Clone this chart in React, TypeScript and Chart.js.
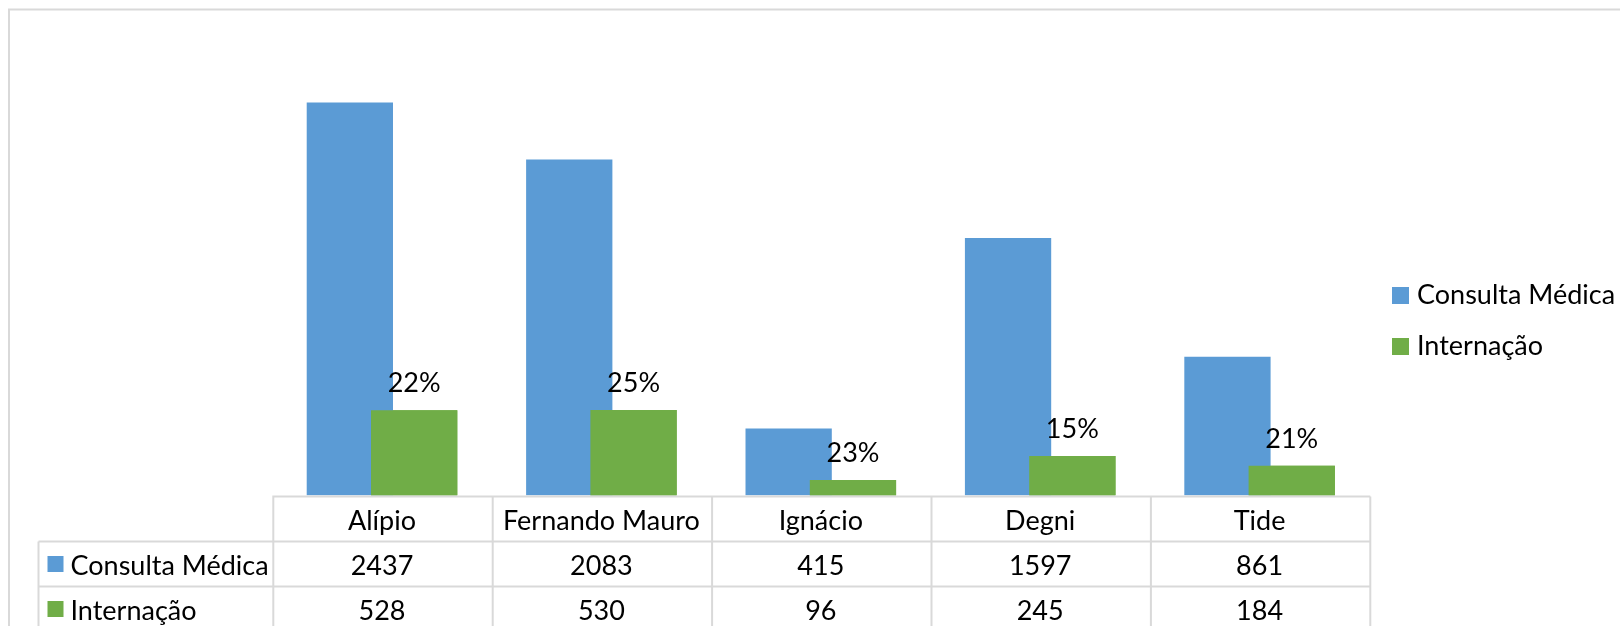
import React, { useEffect, useRef } from "react";
import { Chart, registerables } from "chart.js";

Chart.register(...registerables);

const categories = ["Alípio", "Fernando Mauro", "Ignácio", "Degni", "Tide"];
const consultaValues = [2437, 2083, 415, 1597, 861];
const internacaoValues = [528, 530, 96, 245, 184];
const percentLabels = ["22%", "25%", "23%", "15%", "21%"];
const seriesNames = ["Consulta Médica", "Internação"];
const seriesColors = ["#5B9BD5", "#70AD47"];

const FONT_FAMILY = "Lato, 'Open Sans', sans-serif";
const FONT_SIZE = 27;
const LINE = "#d9d9d9";
const TEXT = "#000000";

const excelPlugin = {
  id: "excelTable",
  beforeDraw(chart: any) {
    const ctx = chart.ctx;
    ctx.save();
    ctx.fillStyle = "#ffffff";
    ctx.fillRect(0, 0, chart.width, chart.height);
    ctx.strokeStyle = LINE;
    ctx.lineWidth = 2;
    ctx.strokeRect(9, 9.5, chart.width + 50, chart.height + 50);
    ctx.restore();
  },
  afterDatasetsDraw(chart: any) {
    const ctx = chart.ctx;
    const area = chart.chartArea;
    const xs = chart.scales.x;
    const n = categories.length;
    const cw = (area.right - area.left) / n;

    // green bars drawn over the blue ones (Excel overlap)
    const gMeta = chart.getDatasetMeta(1);
    ctx.save();
    gMeta.data.forEach((el: any) => el.draw(ctx));
    ctx.restore();

    const font = `${FONT_SIZE}px ${FONT_FAMILY}`;
    ctx.save();
    ctx.font = font;
    ctx.fillStyle = TEXT;
    ctx.textAlign = "center";
    ctx.textBaseline = "alphabetic";
    gMeta.data.forEach((el: any, i: number) => {
      ctx.fillText(percentLabels[i], el.x, el.y - 18);
    });
    ctx.restore();

    // data table
    const top = area.bottom + 1;
    const rowH = 45;
    const legendLeft = 38.5;
    const bottom = chart.height + 10;
    ctx.save();
    ctx.strokeStyle = LINE;
    ctx.lineWidth = 2;
    ctx.beginPath();
    // header top line
    ctx.moveTo(area.left, top);
    ctx.lineTo(area.right + 1, top);
    // row lines
    for (let r = 1; r <= 2; r++) {
      const y = top + rowH * r;
      ctx.moveTo(legendLeft, y);
      ctx.lineTo(area.right + 1, y);
    }
    // vertical lines
    for (let i = 0; i <= n; i++) {
      const x = area.left + cw * i + 1;
      ctx.moveTo(x, top);
      ctx.lineTo(x, bottom);
    }
    ctx.moveTo(legendLeft, top + rowH);
    ctx.lineTo(legendLeft, bottom);
    ctx.stroke();
    ctx.restore();

    ctx.save();
    ctx.font = font;
    ctx.fillStyle = TEXT;
    ctx.textAlign = "center";
    ctx.textBaseline = "alphabetic";
    const baseOff = 33;
    for (let i = 0; i < n; i++) {
      const cx = xs.getPixelForValue(i);
      ctx.fillText(categories[i], cx, top + baseOff);
      ctx.fillText(String(consultaValues[i]), cx, top + rowH + baseOff);
      ctx.fillText(String(internacaoValues[i]), cx, top + rowH * 2 + baseOff);
    }
    // row legend keys
    ctx.textAlign = "left";
    for (let r = 0; r < 2; r++) {
      const rowTop = top + rowH * (r + 1);
      ctx.fillStyle = seriesColors[r];
      ctx.fillRect(47.5, rowTop + 14.5, 16, 16);
      ctx.fillStyle = TEXT;
      ctx.fillText(seriesNames[r], 70.5, rowTop + baseOff);
    }
    // right legend
    for (let r = 0; r < 2; r++) {
      const y = 287 + r * 51;
      ctx.fillStyle = seriesColors[r];
      ctx.fillRect(1392, y, 17, 17);
      ctx.fillStyle = TEXT;
      ctx.fillText(seriesNames[r], 1417, y + 17);
    }
    ctx.restore();
  },
};

export default function App() {
  const ref = useRef<HTMLCanvasElement | null>(null);
  useEffect(() => {
    if (!ref.current) return;
    const chart = new Chart(ref.current, {
      type: "bar",
      data: {
        labels: categories,
        datasets: [
          {
            label: seriesNames[0],
            data: consultaValues,
            backgroundColor: seriesColors[0],
            borderWidth: 0,
          },
          {
            label: seriesNames[1],
            data: internacaoValues,
            backgroundColor: seriesColors[1],
            borderWidth: 0,
          },
        ],
      },
      options: {
        responsive: false,
        animation: false,
        categoryPercentage: 0.5861,
        barPercentage: 1.342,
        layout: {
          padding: { left: 272.3, right: 250.7, top: 11.7, bottom: 130.5 },
        },
        scales: {
          x: { display: false, offset: true },
          y: { display: false, min: 0, max: 3000 },
        },
        plugins: {
          legend: { display: false },
          tooltip: { enabled: false },
        },
      },
      plugins: [excelPlugin],
    } as any);
    return () => chart.destroy();
  }, []);
  return (
    <canvas
      ref={ref}
      width={1620}
      height={626}
      style={{ position: "fixed", left: 0, top: 0, width: 1620, height: 626 }}
    />
  );
}
